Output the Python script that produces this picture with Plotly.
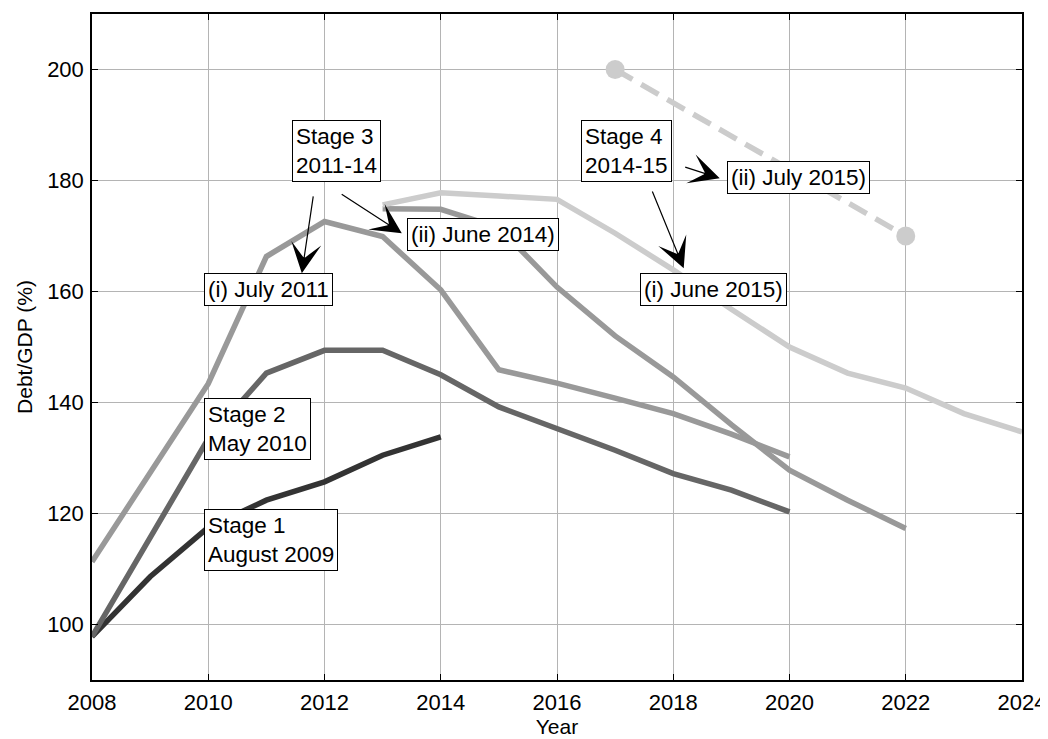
import plotly.graph_objects as go

# ---------------- data ----------------
years_s1 = [2008, 2009, 2010, 2011, 2012, 2013, 2014]
debt_s1 = [97.8, 108.6, 117.5, 122.4, 125.7, 130.5, 133.8]

years_s2 = list(range(2008, 2021))
debt_s2 = [97.8, 115.8, 133.5, 145.3, 149.4, 149.4, 145.0, 139.2, 135.4, 131.4, 127.2, 124.2, 120.3]

years_s3i = list(range(2008, 2021))
debt_s3i = [111.3, 127.4, 143.4, 166.3, 172.6, 169.9, 160.3, 145.9, 143.5, 140.8, 138.0, 134.3, 130.2]

years_s3ii = list(range(2013, 2023))
debt_s3ii = [174.9, 174.8, 171.5, 160.8, 152.0, 144.6, 136.0, 127.8, 122.4, 117.3]

years_s4i = list(range(2013, 2025))
debt_s4i = [175.6, 177.8, 177.2, 176.6, 170.5, 163.9, 156.8, 150.0, 145.3, 142.6, 138.0, 134.7]

years_s4ii = [2017, 2022]
debt_s4ii = [200.0, 170.0]

x_ticks = [2008, 2010, 2012, 2014, 2016, 2018, 2020, 2022, 2024]
y_ticks = [100, 120, 140, 160, 180, 200]

FONT = "Liberation Sans, Arial, sans-serif"
LW = 5.5

fig = go.Figure()
fig.add_trace(go.Scatter(x=years_s1, y=debt_s1, mode="lines",
                         line=dict(color="#333333", width=LW)))
fig.add_trace(go.Scatter(x=years_s2, y=debt_s2, mode="lines",
                         line=dict(color="#666666", width=LW)))
fig.add_trace(go.Scatter(x=years_s3i, y=debt_s3i, mode="lines",
                         line=dict(color="#999999", width=LW)))
fig.add_trace(go.Scatter(x=years_s3ii, y=debt_s3ii, mode="lines",
                         line=dict(color="#999999", width=LW)))
fig.add_trace(go.Scatter(x=years_s4i, y=debt_s4i, mode="lines",
                         line=dict(color="#cccccc", width=LW)))
fig.add_trace(go.Scatter(x=years_s4ii, y=debt_s4ii, mode="lines+markers",
                         line=dict(color="#cccccc", width=LW, dash="20px,10px"),
                         marker=dict(color="#cccccc", size=19)))

# text boxes (top-left corner in data coordinates)
boxes = [
    ("Stage 1<br>August 2009", 2009.92, 120.9),
    ("Stage 2<br>May 2010", 2009.92, 140.9),
    ("(i) July 2011", 2009.92, 163.3),
    ("Stage 3<br>2011-14", 2011.44, 190.9),
    ("(ii) June 2014)", 2013.42, 173.2),
    ("Stage 4<br>2014-15", 2016.41, 190.9),
    ("(ii) July 2015)", 2018.92, 183.5),
    ("(i) June 2015)", 2017.42, 163.3),
]
annotations = []
for txt, bx, by in boxes:
    annotations.append(dict(
        x=bx, y=by, xref="x", yref="y", text=txt, showarrow=False,
        xanchor="left", yanchor="top", align="left",
        font=dict(family=FONT, size=22.5, color="black"),
        bgcolor="white", bordercolor="black", borderwidth=1, borderpad=3))

# arrows: (tail x, tail y, head x, head y)
arrows = [
    (2011.81, 177.4, 2011.61, 163.3),
    (2012.27, 177.7, 2013.33, 170.5),
    (2017.63, 178.3, 2018.18, 164.2),
    (2018.18, 182.5, 2018.80, 180.4),
]
for tx, ty, hx, hy in arrows:
    annotations.append(dict(
        x=hx, y=hy, ax=tx, ay=ty, xref="x", yref="y", axref="x", ayref="y",
        text="", showarrow=True, arrowhead=3, arrowsize=4.2, arrowwidth=1.2,
        arrowcolor="black", standoff=0))

axis_common = dict(
    showgrid=True, gridcolor="#b4b4b4", gridwidth=1,
    showline=True, linecolor="black", linewidth=1.5, mirror="ticks",
    ticks="inside", ticklen=6, tickcolor="black", tickwidth=1,
    zeroline=False, automargin=False,
    tickfont=dict(family=FONT, size=22, color="black"),
)

# the page body adds an 8px offset, so the figure is sized to the window minus it
fig.update_layout(
    width=1040, height=731,
    margin=dict(l=84, r=26, t=6, b=59),
    paper_bgcolor="white", plot_bgcolor="white",
    showlegend=False,
    annotations=annotations,
    xaxis=dict(range=[2008, 2024], tickvals=x_ticks, ticklabelstandoff=2,
               title=dict(text="Year", standoff=4,
                          font=dict(family=FONT, size=21, color="black")),
               **axis_common),
    yaxis=dict(range=[90, 210], tickvals=y_ticks, ticklabelstandoff=2,
               title=dict(text="Debt/GDP (%)", standoff=9,
                          font=dict(family=FONT, size=21, color="black")),
               **axis_common),
)

fig.write_html("out.html")
